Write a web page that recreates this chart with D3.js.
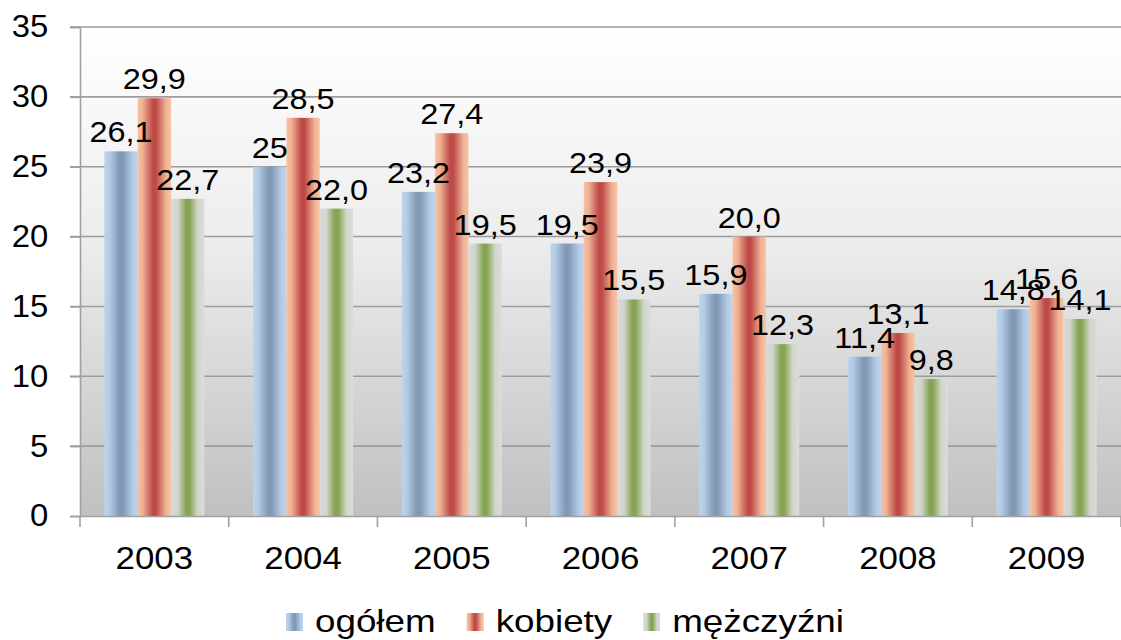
<!DOCTYPE html>
<html><head><meta charset="utf-8">
<script src="https://cdnjs.cloudflare.com/ajax/libs/d3/7.8.5/d3.min.js"></script>
<style>
html,body{margin:0;padding:0;background:#fff;}
svg{display:block;font-family:Arial,"Liberation Sans",sans-serif;}
</style></head>
<body><svg id="c" width="1121" height="640"></svg>
<script>
const years = ["2003","2004","2005","2006","2007","2008","2009"];
const seriesNames = ["ogółem","kobiety","mężczyźni"];
const ogolem = [26.1,25,23.2,19.5,15.9,11.4,14.8];
const kobiety = [29.9,28.5,27.4,23.9,20.0,13.1,15.6];
const mezczyzni = [22.7,22.0,19.5,15.5,12.3,9.8,14.1];
const ogolemLabels = ["26,1","25","23,2","19,5","15,9","11,4","14,8"];
const kobietyLabels = ["29,9","28,5","27,4","23,9","20,0","13,1","15,6"];
const mezczyzniLabels = ["22,7","22,0","19,5","15,5","12,3","9,8","14,1"];
const yTicks = [0,5,10,15,20,25,30,35];

const series = [
  {name: seriesNames[0], values: ogolem, labels: ogolemLabels, grad: "gBlue"},
  {name: seriesNames[1], values: kobiety, labels: kobietyLabels, grad: "gRed"},
  {name: seriesNames[2], values: mezczyzni, labels: mezczyzniLabels, grad: "gGreen"}
];

const svg = d3.select("#c");
const L = 80, R = 1121, T = 27, B = 516;

const defs = svg.append("defs");
const bg = defs.append("linearGradient").attr("id","bgGrad").attr("x1",0).attr("y1",0).attr("x2",0).attr("y2",1);
bg.append("stop").attr("offset","0%").attr("stop-color","#ffffff");
bg.append("stop").attr("offset","45%").attr("stop-color","#ececec");
bg.append("stop").attr("offset","100%").attr("stop-color","#c0c0c0");

function hgrad(id, stops){
  const g = defs.append("linearGradient").attr("id",id).attr("x1",0).attr("y1",0).attr("x2",1).attr("y2",0);
  stops.forEach(s => g.append("stop").attr("offset",s[0]).attr("stop-color",s[1]));
}
hgrad("gBlue", [["0%","#bcd5ee"],["15%","#b3cbe4"],["45%","#8299b6"],["55%","#8299b6"],["85%","#b3cbe4"],["100%","#bcd6ef"]]);
hgrad("gRed", [["0%","#f7c3a3"],["15%","#eeb194"],["45%","#bf4b48"],["55%","#bf4b48"],["85%","#efb395"],["100%","#f7c4a4"]]);
hgrad("gGreen", [["0%","#dadada"],["20%","#d2d5ce"],["45%","#86a452"],["55%","#86a452"],["80%","#d0d6c8"],["100%","#dcdcdc"]]);

const x0 = d3.scaleBand().domain(years).range([L,R]).paddingInner(0).paddingOuter(0);
const x1 = d3.scaleBand().domain(seriesNames).range([0, x0.bandwidth()]).paddingInner(0).paddingOuter(0.73);
const y = d3.scaleLinear().domain([0,35]).range([B,T]);

svg.append("rect").attr("x",L).attr("y",T).attr("width",R-L).attr("height",B-T).attr("fill","url(#bgGrad)");

// gridlines
svg.append("g").selectAll("line").data(yTicks.filter(d=>d>0)).join("line")
  .attr("x1",L-10).attr("x2",R).attr("y1",d=>y(d)).attr("y2",d=>y(d))
  .attr("stroke","#9c9c9c").attr("stroke-width",1.6);

// bars
const gYear = svg.append("g").selectAll("g").data(years).join("g")
  .attr("transform",d=>`translate(${x0(d)},0)`);
series.forEach(s=>{
  gYear.append("rect")
    .attr("x",x1(s.name)).attr("width",x1.bandwidth())
    .attr("y",(d,i)=>y(s.values[i])).attr("height",(d,i)=>y(0)-y(s.values[i]))
    .attr("fill",`url(#${s.grad})`);
});
series.forEach(s=>{
  gYear.append("text")
    .attr("transform",(d,i)=>`translate(${x1(s.name)+x1.bandwidth()/2},${y(s.values[i])-9}) scale(1.08,1)`)
    .attr("text-anchor","middle").attr("font-size",30).attr("fill","#000")
    .text((d,i)=>s.labels[i]);
});

// y axis
const yAxis = d3.axisLeft(y).tickValues(yTicks).tickSize(10).tickPadding(20).tickFormat(d3.format("d"));
const ya = svg.append("g").attr("transform",`translate(${L},0)`).call(yAxis);
ya.select(".domain").attr("stroke","#a0a0a0").attr("stroke-width",1.6);
ya.selectAll(".tick line").attr("stroke","#a0a0a0").attr("stroke-width",1.6);
ya.selectAll("text").attr("font-size",31).attr("fill","#000").attr("font-family","Arial,'Liberation Sans',sans-serif")
  .attr("transform","scale(1.06,1)");

// x axis
const xAxis = d3.axisBottom(x0).tickSize(0).tickPadding(30);
const xa = svg.append("g").attr("transform",`translate(0,${B})`).call(xAxis);
xa.select(".domain").attr("stroke","#a0a0a0").attr("stroke-width",1.6);
xa.selectAll("text").attr("font-size",32).attr("fill","#000").attr("font-family","Arial,'Liberation Sans',sans-serif")
  .attr("transform","scale(1.09,1)");
xa.append("g").selectAll("line").data(years.concat(["end"])).join("line")
  .attr("x1",(d,i)=>L+i*x0.bandwidth()).attr("x2",(d,i)=>L+i*x0.bandwidth())
  .attr("y1",0).attr("y2",11).attr("stroke","#a0a0a0").attr("stroke-width",1.6);

// legend
const lg = svg.append("g").attr("transform","translate(286,0)");
const legScale = 1.15;
let cx = 0;
series.forEach(s=>{
  const it = lg.append("g").attr("transform",`translate(${cx},0)`);
  it.append("rect").attr("x",0).attr("y",613).attr("width",17).attr("height",18).attr("fill",`url(#${s.grad})`);
  const t = it.append("text").attr("transform",`translate(29,632) scale(${legScale},1)`)
    .attr("font-size",32).attr("fill","#000").text(s.name);
  const w = t.node().getComputedTextLength()*legScale;
  cx += 29 + w + 31;
});
</script></body></html>
